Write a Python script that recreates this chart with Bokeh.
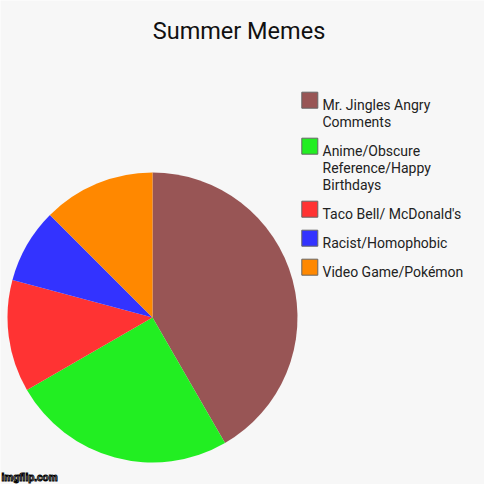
import numpy as np
from bokeh.plotting import figure
from bokeh.models import Range1d, ColumnDataSource
from bokeh.core.properties import value
from bokeh.embed import file_html
from bokeh.resources import INLINE

title = "Summer Memes"
labels = ["Mr. Jingles Angry Comments", "Anime/Obscure Reference/Happy Birthdays",
          "Taco Bell/ McDonald's", "Racist/Homophobic", "Video Game/Pokémon"]
legend_lines = [["Mr. Jingles Angry", "Comments"],
                ["Anime/Obscure", "Reference/Happy", "Birthdays"],
                ["Taco Bell/ McDonald's"], ["Racist/Homophobic"], ["Video Game/Pokémon"]]
counts = [10, 6, 3, 2, 3]
colors = ["#985555", "#22ee22", "#ff3333", "#3333ff", "#ff8800"]
watermark = "imgflip.com"

W = H = 484
BG = "#f7f7f7"
FONT = "Roboto"

def Y(yref):
    return H - (yref - 8)

def X(xref):
    return xref - 8

p = figure(width=W, height=H, output_backend="svg", toolbar_location=None,
           x_range=Range1d(0, W), y_range=Range1d(0, H), min_border=0)
p.axis.visible = False
p.grid.visible = False
p.outline_line_color = None
p.background_fill_color = BG
p.border_fill_color = BG

vals = np.array(counts, dtype=float)
frac = vals / vals.sum()
cum = np.concatenate([[0], np.cumsum(frac)])
start = np.pi / 2 - cum[1:] * 2 * np.pi
end = np.pi / 2 - cum[:-1] * 2 * np.pi
src = ColumnDataSource(dict(start=start, end=end, color=colors, label=labels))
p.wedge(x=X(160), y=Y(325), radius=145, start_angle="start", end_angle="end",
        fill_color="color", line_color=None, source=src)

p.text(x=[X(246.5)], y=[Y(38.3)], text=[title], text_font=value(FONT),
       text_font_size="23.5px", text_align="center", text_baseline="alphabetic",
       text_color="#111111")

sq_x, sq_y, sq_c = [], [], []
tx, ty, tt = [], [], []
base = 112.7
for lines, c in zip(legend_lines, colors):
    sq_x.append(X(317.3)); sq_y.append(Y(base - 5)); sq_c.append(c)
    for i, line in enumerate(lines):
        tx.append(X(330)); ty.append(Y(base + i * 17)); tt.append(line)
    base += len(lines) * 17 + 12

p.rect(x=sq_x, y=sq_y, width=16, height=16, fill_color=sq_c,
       line_color="#666666", line_width=1)
p.text(x=tx, y=ty, text=tt, text_font=value(FONT), text_font_size="14px",
       text_align="left", text_baseline="alphabetic", text_color="#222222")

p.text(x=[1], y=[2], text=[watermark], text_font=value("Liberation Sans"),
       text_font_size="10px", text_font_style="bold", text_align="left",
       text_baseline="bottom", text_color="#ffffff",
       text_outline_color="#000000")

open("out.html", "w").write(file_html(p, INLINE))
